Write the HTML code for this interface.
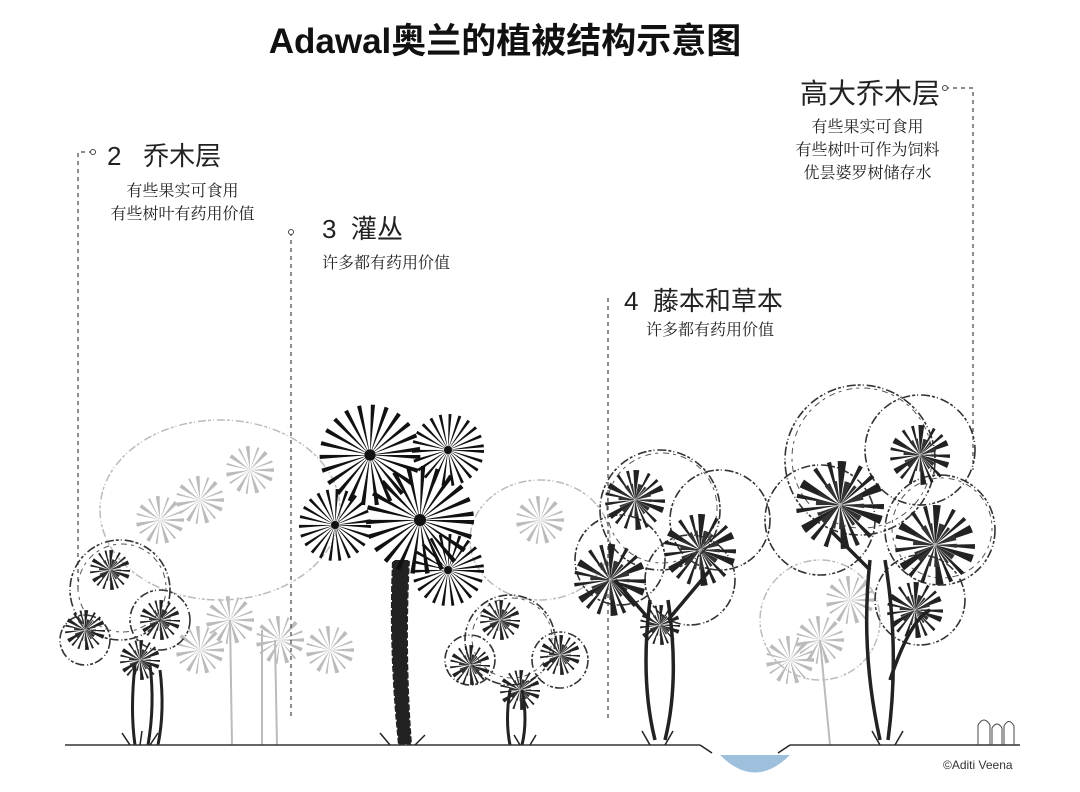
<!DOCTYPE html>
<html><head><meta charset="utf-8"><style>
body{margin:0;background:#fff;}
.w{position:relative;width:1080px;height:792px;overflow:hidden;background:#fff;font-family:"Liberation Sans","Noto Sans CJK SC",sans-serif;}
.t{position:absolute;white-space:nowrap;color:#222;}
.s{font-family:"Liberation Serif","Noto Serif CJK SC",serif;font-size:16px;line-height:23px;text-align:center;color:#222;}
</style></head><body><div class="w">
<svg width="1080" height="792" style="position:absolute;left:0;top:0">
<defs>
<g id="fan"><circle r="18" fill="none" stroke="#111" stroke-width="36" stroke-dasharray="1.5 3.5"/><circle r="4" fill="#111"/></g>
<g id="leaf"><circle r="10" fill="none" stroke="#222" stroke-width="20" stroke-dasharray="1 1.5 2 3 1 2.5"/><circle r="6" fill="none" stroke="#333" stroke-width="10" stroke-dasharray="0.8 2 1.5 1"/></g>
<g id="lleaf"><circle r="12" fill="none" stroke="#bbb" stroke-width="24" stroke-dasharray="1 3 2 4"/></g>
</defs>
<g fill="none" stroke="#bbb" stroke-width="1.5" stroke-dasharray="8 2 3 2 1 3">
<ellipse cx="220" cy="510" rx="120" ry="90"/>
<ellipse cx="540" cy="540" rx="70" ry="60"/>
<ellipse cx="820" cy="620" rx="60" ry="60"/>
</g>
<use href="#lleaf" x="200" y="500"/><use href="#lleaf" x="250" y="470"/><use href="#lleaf" x="160" y="520"/>
<use href="#lleaf" x="230" y="620"/><use href="#lleaf" x="280" y="640"/><use href="#lleaf" x="200" y="650"/>
<use href="#lleaf" x="330" y="650"/><use href="#lleaf" x="540" y="520"/><use href="#lleaf" x="820" y="640"/>
<use href="#lleaf" x="790" y="660"/><use href="#lleaf" x="850" y="600"/>
<g stroke="#bbb" stroke-width="2"><line x1="230" y1="620" x2="232" y2="745"/><line x1="262" y1="630" x2="262" y2="745"/><line x1="275" y1="640" x2="277" y2="745"/><line x1="820" y1="640" x2="830" y2="745"/></g>
<g fill="none" stroke="#444" stroke-width="1.2" stroke-dasharray="4 4">
<path d="M93 152 H78 V590"/>
<path d="M291 232 V720"/>
<path d="M608 298 V720"/>
<path d="M945 88 H973 V470"/>
</g>
<g fill="#fff" stroke="#444"><circle cx="93" cy="152" r="2.5"/><circle cx="291" cy="232" r="2.5"/><circle cx="945" cy="88" r="2.5"/></g>
<g fill="none" stroke="#333" stroke-width="1.6" stroke-dasharray="9 2 3 2 1 3">
<circle cx="120" cy="590" r="50"/><circle cx="85" cy="640" r="25"/><circle cx="160" cy="620" r="30"/>
<circle cx="510" cy="640" r="45"/><circle cx="470" cy="660" r="25"/><circle cx="560" cy="660" r="28"/>
<circle cx="660" cy="510" r="60"/><circle cx="720" cy="520" r="50"/><circle cx="620" cy="560" r="45"/><circle cx="690" cy="580" r="45"/>
<circle cx="860" cy="460" r="75"/><circle cx="920" cy="450" r="55"/><circle cx="820" cy="520" r="55"/><circle cx="940" cy="530" r="55"/><circle cx="920" cy="600" r="45"/>
</g>
<g fill="none" stroke="#555" stroke-width="1" stroke-dasharray="3 5 6 4">
<circle cx="122" cy="588" r="44"/><circle cx="662" cy="508" r="55"/><circle cx="862" cy="458" r="70"/><circle cx="942" cy="528" r="50"/><circle cx="512" cy="638" r="40"/>
</g>
<use href="#leaf" x="110" y="570"/><use href="#leaf" x="85" y="630"/><use href="#leaf" x="140" y="660"/><use href="#leaf" x="160" y="620"/>
<g stroke="#222" stroke-width="3" fill="none"><path d="M135 665 Q130 710 135 745"/><path d="M150 665 Q155 705 148 745"/><path d="M160 670 Q165 710 158 745"/></g>
<path d="M392 560 Q388 650 398 745 L412 745 Q405 650 410 560 Z" fill="#222"/>
<path d="M392 560 Q388 650 398 745 L412 745 Q405 650 410 560 Z" fill="none" stroke="#fff" stroke-width="2" stroke-dasharray="2 6"/>
<use href="#fan" transform="translate(370 455) scale(1.4)"/>
<use href="#fan" x="448" y="450"/>
<use href="#fan" x="335" y="525"/>
<use href="#fan" transform="translate(420 520) scale(1.5)"/>
<use href="#fan" x="448" y="570"/>
<use href="#leaf" x="500" y="620"/><use href="#leaf" x="470" y="665"/><use href="#leaf" x="560" y="655"/><use href="#leaf" x="520" y="690"/>
<g stroke="#222" stroke-width="3" fill="none"><path d="M510 690 Q505 720 510 745"/><path d="M522 690 Q528 720 522 745"/></g>
<use href="#leaf" transform="translate(635 500) scale(1.5)"/>
<use href="#leaf" transform="translate(700 550) scale(1.8)"/>
<use href="#leaf" transform="translate(610 580) scale(1.8)"/>
<use href="#leaf" x="660" y="625"/>
<g stroke="#222" stroke-width="3.5" fill="none"><path d="M650 600 Q640 680 655 740"/><path d="M668 600 Q680 680 665 740"/><path d="M650 620 L615 580"/><path d="M668 620 L710 570"/></g>
<use href="#leaf" transform="translate(920 455) scale(1.5)"/>
<use href="#leaf" transform="translate(840 505) scale(2.2)"/>
<use href="#leaf" transform="translate(935 545) scale(2)"/>
<use href="#leaf" transform="translate(915 610) scale(1.4)"/>
<g stroke="#222" stroke-width="3.5" fill="none"><path d="M870 560 Q860 650 880 740"/><path d="M885 560 Q900 650 888 740"/><path d="M890 680 Q910 620 930 610"/><path d="M870 570 L830 530"/></g>
<path d="M65 745 H700 M790 745 H1020" stroke="#333" stroke-width="1.5"/>
<g stroke="#222" stroke-width="1.5"><path d="M130 745 l-8 -12 M140 745 l2 -14 M150 745 l8 -12 M390 745 l-10 -12 M415 745 l10 -10 M650 745 l-8 -14 M665 745 l8 -14 M880 745 l-8 -14 M895 745 l8 -14 M520 745 l-6 -10 M530 745 l6 -10 M700 745 l12 8 M790 745 l-12 8"/></g>
<path d="M720 755 Q755 790 790 755 Z" fill="#9fc0dc"/>
<g fill="none" stroke="#444" stroke-width="1"><path d="M978 745 V725 q6 -10 12 0 V745 M992 745 V728 q5 -8 10 0 V745 M1004 745 V726 q5 -9 10 0 V745"/></g>
</svg>
<div class="t" style="left:0;width:1010px;top:13px;text-align:center;font-size:35px;font-weight:bold;color:#111;">Adawal奥兰的植被结构示意图</div>
<div class="t" style="left:107px;top:136px;font-size:26px;">2&nbsp;&nbsp;&nbsp;乔木层</div>
<div class="t s" style="left:90px;width:185px;top:180px;">有些果实可食用<br>有些树叶有药用价值</div>
<div class="t" style="left:322px;top:209px;font-size:26px;">3&nbsp;&nbsp;灌丛</div>
<div class="t s" style="left:322px;top:252px;text-align:left;">许多都有药用价值</div>
<div class="t" style="left:624px;top:281px;font-size:26px;">4&nbsp;&nbsp;藤本和草本</div>
<div class="t s" style="left:646px;top:319px;text-align:left;">许多都有药用价值</div>
<div class="t" style="left:800px;top:72px;font-size:28px;">高大乔木层</div>
<div class="t s" style="left:775px;width:185px;top:116px;">有些果实可食用<br>有些树叶可作为饲料<br>优昙婆罗树储存水</div>
<div class="t" style="left:943px;top:758px;font-size:12px;color:#333;">©Aditi Veena</div>
</div></body></html>
